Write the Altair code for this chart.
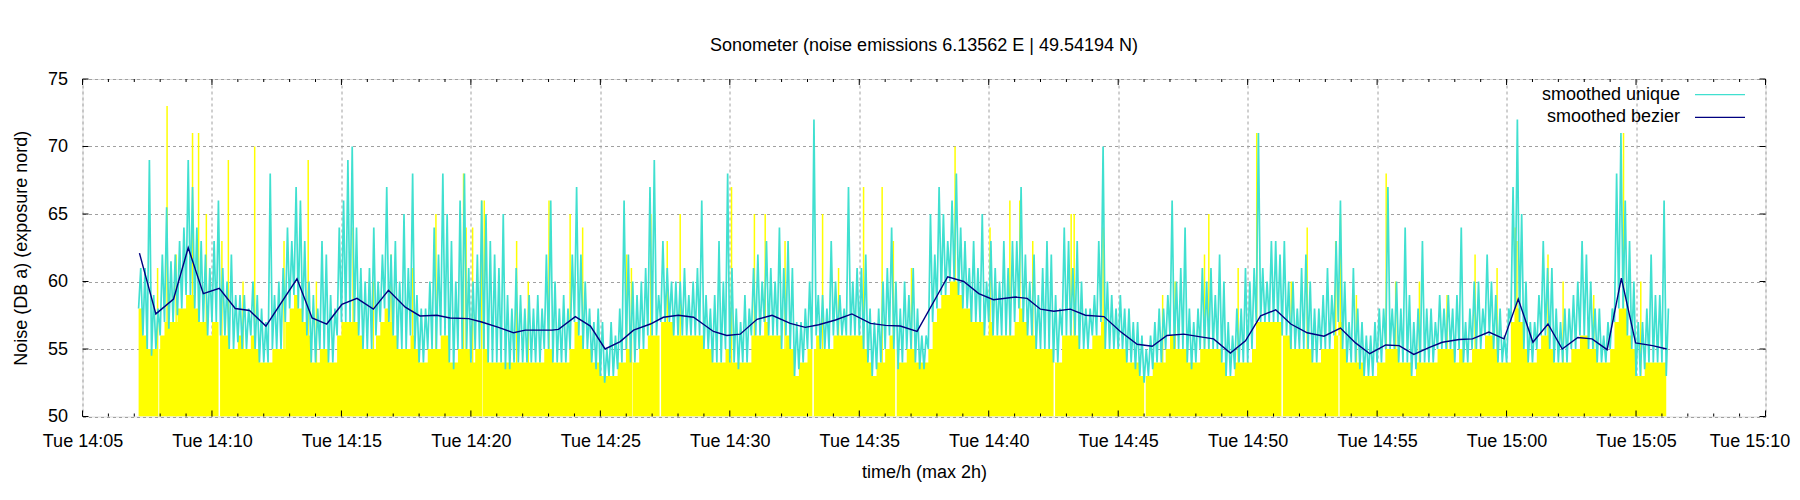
import altair as alt
import pandas as pd

# ---------------- data ----------------
DAY = "2024-01-02"          # a Tuesday
START = "14:07:10"          # first sample
STEP_S = 10                 # one sample every 10 s

# upper / lower extent of the cyan "smoothed unique" trace per 10 s
cyan_hi = [
    61, 61, 69, 59, 58,
    62, 65.5, 61.5, 62, 63, 64,
    69, 67, 64, 63, 62, 61,
    63, 66, 61, 60, 62, 59,
    59, 59, 58, 60, 59, 58,
    57, 68, 59, 60, 61, 64,
    63, 67, 66, 63, 60, 59,
    58, 63, 62, 59, 58, 64,
    66, 69, 70, 64, 61, 60,
    61, 64, 60, 62, 67, 62,
    63, 60, 65, 61, 68, 59,
    58, 58, 60, 64, 62, 68,
    65, 63, 60, 66, 68, 61,
    60, 62, 66, 65, 63, 62,
    61, 65, 59, 58, 61, 59,
    58, 59, 58, 59, 58, 62,
    66, 60, 58, 59, 58, 62,
    67, 62, 60, 58, 57, 58,
    57, 55, 57, 56, 58, 66,
    62, 60, 59, 60, 61, 67,
    69, 59, 63, 61, 60, 60,
    60, 61, 59, 60, 61, 66,
    59, 58, 59, 63, 60, 68,
    61, 58, 57, 59, 58, 61,
    62, 60, 63, 61, 60, 64,
    61, 63, 61, 57, 57, 58,
    60, 72, 59, 59, 58, 63,
    60, 59, 58, 67, 60, 61,
    61, 62, 58, 57, 58, 60,
    61, 64, 60, 58, 60, 59,
    61, 58, 56, 56, 65, 62,
    67, 65, 63, 66, 68, 64,
    63, 61, 63, 61, 65, 60,
    63, 61, 60, 63, 61, 63,
    63, 67, 62, 60, 62, 59,
    61, 63, 62, 59, 58, 64,
    63, 61, 63, 60, 58, 58,
    59, 63, 70, 60, 59, 58,
    59, 58, 58, 57, 57, 56,
    55, 56, 57, 58, 58, 59,
    66, 60, 61, 64, 58, 57,
    58, 61, 60, 61, 59, 62,
    60, 57, 56, 58, 58, 61,
    60, 61, 71, 61, 60, 63,
    63, 62, 63, 60, 60, 58,
    61, 62, 60, 58, 58, 59,
    61, 59, 63, 66, 60, 57,
    61, 58, 57, 56, 56, 57,
    58, 58, 67, 58, 60, 58,
    64, 59, 57, 58, 63, 58,
    58, 57, 59, 58, 59, 58,
    59, 64, 57, 58, 60, 60,
    58, 62, 60, 59, 58, 56,
    58, 67, 72, 65, 60, 57,
    57, 59, 63, 61, 61, 58,
    57, 58, 58, 59, 60, 63,
    62, 60, 58, 58, 56, 57,
    58, 68, 71, 66, 63, 60,
    57, 57, 58, 62, 59, 59,
    66, 58,
]
cyan_lo = [
    58, 56, 55, 54.5, 55,
    56, 57, 56.5, 57, 57.5, 58,
    59, 59, 58, 57, 57, 56,
    57, 57, 56, 56, 55, 55,
    55.5, 55, 55, 56, 55, 54,
    54, 54, 55, 55, 55, 57,
    58, 59, 58, 57, 56, 54,
    54, 55, 55, 54, 54, 56,
    57, 57, 57, 57, 56, 55,
    55, 55, 56, 57, 58, 57,
    56, 55, 55, 55, 56, 55,
    54, 54, 55, 55, 55, 56,
    56, 54, 53.5, 55, 55, 55,
    54, 55, 55, 55, 54, 54,
    54, 54, 53.5, 53.5, 54, 54,
    54, 54, 54, 54, 54, 55,
    55, 54, 54, 54, 54, 55,
    57, 56, 55, 55, 54, 53.5,
    53, 52.5, 53, 53, 53.5, 54,
    55, 54, 54, 55, 55, 56,
    56, 56, 57, 57, 57, 56,
    56, 56, 56, 56, 56, 56,
    55, 55, 54, 54, 54, 55,
    54, 54, 53.5, 54, 54, 56,
    56, 56, 57, 56, 56, 56,
    55, 56, 55, 53, 53.5, 54,
    55, 55, 56, 55, 55, 55,
    56, 56, 56, 56, 56, 56,
    56, 55, 54, 53, 53.5, 54,
    55, 56, 55, 53.5, 54, 55,
    55, 54, 53.5, 53.5, 55, 57,
    58, 59, 59, 60, 60, 59,
    58, 58, 57, 57, 57, 56,
    57, 56, 56, 56, 56, 56,
    57, 58, 57, 56, 56, 55,
    55, 55, 55, 54, 54, 56,
    56, 56, 56, 55, 55, 55,
    56, 56, 57, 55, 55, 55,
    55, 55, 54, 54, 53.5, 53,
    52.5, 53, 53.5, 54, 54, 55,
    56, 55, 55, 55, 54, 53.5,
    54, 55, 55, 55, 55, 55,
    54, 53, 53, 53.5, 54, 54,
    54, 55, 57, 57, 57, 57,
    57, 57, 56, 56, 55, 55,
    55, 55, 55, 54, 54, 55,
    55, 55, 56, 57, 55, 54,
    54, 54, 53.5, 53, 53, 53,
    54, 54, 55, 55, 55, 54,
    54, 54, 53, 53.5, 54, 54,
    54, 54, 55, 55, 55, 55,
    54, 55, 54, 54, 55, 55,
    55, 56, 56, 55, 54, 54,
    54, 57, 58, 57, 55, 54,
    54, 55, 56, 56, 55, 54,
    54, 54, 54, 55, 55, 56,
    56, 55, 55, 54, 54, 54,
    55, 57, 58, 58, 56, 55,
    53, 53, 53.5, 54, 54, 54,
    54, 53,
]
# top of the solid yellow raw-value fill per 10 s (whole dB)
yellow_db = [
    58, 56, 55, 55, 55,
    56, 57, 57, 57, 58, 58,
    59, 59, 58, 57, 57, 56,
    57, 57, 56, 56, 55, 55,
    56, 55, 55, 56, 55, 54,
    54, 54, 55, 55, 55, 57,
    58, 59, 58, 57, 56, 54,
    54, 55, 55, 54, 54, 56,
    57, 57, 57, 57, 56, 55,
    55, 55, 56, 57, 58, 57,
    56, 55, 55, 55, 56, 55,
    54, 54, 55, 55, 55, 56,
    56, 54, 54, 55, 55, 55,
    54, 55, 55, 55, 54, 54,
    54, 54, 54, 54, 54, 54,
    54, 54, 54, 54, 54, 55,
    55, 54, 54, 54, 54, 55,
    57, 56, 55, 55, 54, 54,
    53, 53, 53, 53, 54, 54,
    55, 54, 54, 55, 55, 56,
    56, 56, 57, 57, 57, 56,
    56, 56, 56, 56, 56, 56,
    55, 55, 54, 54, 54, 55,
    54, 54, 54, 54, 54, 56,
    56, 56, 57, 56, 56, 56,
    55, 56, 55, 53, 54, 54,
    55, 55, 56, 55, 55, 55,
    56, 56, 56, 56, 56, 56,
    56, 55, 54, 53, 54, 54,
    55, 56, 55, 54, 54, 55,
    55, 54, 54, 54, 55, 57,
    58, 59, 59, 60, 60, 59,
    58, 58, 57, 57, 57, 56,
    57, 56, 56, 56, 56, 56,
    57, 58, 57, 56, 56, 55,
    55, 55, 55, 54, 54, 56,
    56, 56, 56, 55, 55, 55,
    56, 56, 57, 55, 55, 55,
    55, 55, 54, 54, 54, 53,
    53, 53, 54, 54, 54, 55,
    56, 55, 55, 55, 54, 54,
    54, 55, 55, 55, 55, 55,
    54, 53, 53, 54, 54, 54,
    54, 55, 57, 57, 57, 57,
    57, 57, 56, 56, 55, 55,
    55, 55, 55, 54, 54, 55,
    55, 55, 56, 57, 55, 54,
    54, 54, 54, 53, 53, 53,
    54, 54, 55, 55, 55, 54,
    54, 54, 53, 54, 54, 54,
    54, 54, 55, 55, 55, 55,
    54, 55, 54, 54, 55, 55,
    55, 56, 56, 55, 54, 54,
    54, 57, 58, 57, 55, 54,
    54, 55, 56, 56, 55, 54,
    54, 54, 54, 55, 55, 56,
    56, 55, 55, 54, 54, 54,
    55, 57, 58, 58, 56, 55,
    53, 53, 54, 54, 54, 54,
    54, 53,
]
# single yellow impulses that stand above the cyan trace
spike_time = [
    "14:07:54", "14:08:16", "14:08:37", "14:09:15", "14:09:29", "14:09:47",
    "14:10:23", "14:10:38", "14:11:12", "14:11:39", "14:12:47", "14:13:43",
    "14:14:02", "14:15:27", "14:16:14", "14:16:55", "14:17:45", "14:18:39",
    "14:19:43", "14:19:49", "14:20:04", "14:20:25", "14:20:31", "14:21:46",
    "14:22:13", "14:23:01", "14:23:50", "14:24:19", "14:26:01", "14:26:12",
    "14:26:57", "14:27:35", "14:28:05", "14:30:04", "14:30:57", "14:31:22",
    "14:32:08", "14:33:35", "14:34:12", "14:35:10", "14:35:53", "14:36:19",
    "14:37:01", "14:38:42", "14:40:03", "14:40:49", "14:41:12", "14:41:42",
    "14:43:11", "14:43:18", "14:44:25", "14:46:43", "14:47:12", "14:48:20",
    "14:48:30", "14:49:38", "14:50:21", "14:51:41", "14:52:18", "14:53:24",
    "14:53:35", "14:54:12", "14:55:21", "14:55:43", "14:56:38", "14:57:42",
    "14:58:47", "14:59:38", "15:00:20", "15:00:24", "15:01:36", "15:02:11",
    "15:03:22", "15:04:31", "15:05:11",
]
spike_db = [
    61, 73, 62, 71, 71, 65,
    63, 69, 60, 70, 63, 69,
    60, 64, 60, 62, 61, 65,
    68, 64, 64, 66, 66, 63,
    60, 66, 65, 64, 62, 61,
    65, 63, 65, 67, 65, 65,
    63, 65, 61, 67, 67, 63,
    61, 70, 64, 66, 66, 63,
    65, 65, 64, 59, 60, 62,
    65, 61, 71, 60, 64, 63,
    65, 59, 68, 60, 60, 59,
    62, 61, 64, 63, 62, 60,
    59, 71, 60,
]
# thin gaps (missing samples) that cut the yellow fill
gap_time = ["14:07:56", "14:10:17", "14:20:26", "14:26:13", "14:27:19", "14:33:13",
            "14:36:25", "14:42:32", "14:46:02", "14:51:20", "14:53:32"]
gap_top = [56, 57, 55, 54, 57, 56, 55, 54, 53, 56, 56]

# knots of the dark-blue "smoothed bezier" curve
bez_time = [
    "14:07:12", "14:07:50", "14:08:31", "14:09:05", "14:09:40", "14:10:17", "14:10:54",
    "14:11:27", "14:12:05", "14:13:17", "14:13:52", "14:14:26", "14:15:01", "14:15:36",
    "14:16:14", "14:16:49", "14:17:28", "14:18:02", "14:18:41", "14:19:12", "14:19:55",
    "14:20:25", "14:21:04", "14:21:39", "14:22:06", "14:23:08", "14:23:23", "14:24:02",
    "14:24:37", "14:25:11", "14:25:46", "14:26:17", "14:26:56", "14:27:26", "14:28:01",
    "14:28:36", "14:29:22", "14:29:53", "14:30:24", "14:31:03", "14:31:38", "14:32:20",
    "14:32:55", "14:33:26", "14:34:05", "14:34:43", "14:35:26", "14:36:01", "14:36:35",
    "14:37:14", "14:38:25", "14:39:02", "14:39:37", "14:40:11", "14:41:02", "14:41:29",
    "14:42:00", "14:42:31", "14:43:09", "14:43:44", "14:44:27", "14:45:05", "14:45:44",
    "14:46:19", "14:46:53", "14:47:32", "14:48:11", "14:48:41", "14:49:20", "14:49:55",
    "14:50:30", "14:51:05", "14:51:40", "14:52:18", "14:52:57", "14:53:35", "14:54:10",
    "14:54:43", "14:55:20", "14:55:51", "14:56:25", "14:57:00", "14:57:31", "14:58:10",
    "14:58:41", "14:59:19", "14:59:54", "15:00:27", "15:01:01", "15:01:36", "15:02:09",
    "15:02:45", "15:03:18", "15:03:53", "15:04:26", "15:04:59", "15:05:38", "15:06:11",
]
bez_db = [
    62.1, 57.6, 58.7, 62.5, 59.1, 59.5, 58.0,
    57.85, 56.7, 60.2, 57.3, 56.85, 58.3, 58.75,
    57.95, 59.35, 58.1, 57.45, 57.5, 57.3, 57.25,
    57.0, 56.6, 56.2, 56.4, 56.4, 56.45, 57.4,
    56.7, 55.0, 55.55, 56.4, 56.85, 57.35, 57.5,
    57.35, 56.3, 56.0, 56.1, 57.2, 57.5, 56.9,
    56.6, 56.8, 57.15, 57.6, 56.9, 56.75, 56.7,
    56.3, 60.35, 60.0, 59.1, 58.65, 58.85, 58.75,
    57.95, 57.8, 57.95, 57.5, 57.4, 56.3, 55.35,
    55.2, 56.0, 56.1, 55.9, 55.75, 54.7, 55.6,
    57.45, 57.9, 56.85, 56.2, 55.95, 56.55, 55.45,
    54.65, 55.3, 55.25, 54.6, 55.1, 55.5, 55.7,
    55.75, 56.25, 55.75, 58.7, 55.5, 56.85, 55.0,
    55.85, 55.75, 54.95, 60.25, 55.45, 55.25, 55.0,
]

legend_labels = ["smoothed unique", "smoothed bezier"]
title_text = "Sonometer (noise emissions 6.13562 E | 49.54194 N)"
x_title = "time/h (max 2h)"
y_title = "Noise (DB a) (exposure nord)"
y_ticks = [50, 55, 60, 65, 70, 75]

assert len(cyan_hi) == len(cyan_lo) == len(yellow_db)
assert len(spike_time) == len(spike_db)
assert len(gap_time) == len(gap_top)
assert len(bez_time) == len(bez_db)

# ---------------- styling ----------------
FONT = "Liberation Sans"
FS = 18
W, H = 1683, 337.5
CYAN = "#40e0d0"
YELLOW = "#ffff00"
NAVY = "#000080"
GRID = "#a0a0a0"

def iso(t):
    return t.strftime("%Y-%m-%dT%H:%M:%S")

def dt(h, m):
    return alt.DateTime(year=2024, month=1, date=2, hours=h, minutes=m)

t0 = pd.Timestamp(f"{DAY} {START}")
times = [t0 + pd.Timedelta(seconds=STEP_S * i) for i in range(len(cyan_hi))]

yellow_df = pd.DataFrame({"t": [iso(t) for t in times], "v": yellow_db})
rows = []
for i, t in enumerate(times):
    rows.append({"t": iso(t), "v": cyan_lo[i], "o": 2 * i})
    rows.append({"t": iso(t + pd.Timedelta(seconds=STEP_S / 2)), "v": cyan_hi[i], "o": 2 * i + 1})
cyan_df = pd.DataFrame(rows)
spike_df = pd.DataFrame({"t": [f"{DAY}T{s}" for s in spike_time], "v": spike_db})
gap_df = pd.DataFrame({"t": [f"{DAY}T{s}" for s in gap_time], "v": gap_top})
bez_df = pd.DataFrame({"t": [f"{DAY}T{s}" for s in bez_time], "v": bez_db})

# tick positions (every minute, longer every 5 minutes)
minutes = pd.date_range(f"{DAY} 14:05", f"{DAY} 15:10", freq="1min")
major_df = pd.DataFrame({"t": [iso(m) for m in minutes if m.minute % 5 == 0]})
minor_df = pd.DataFrame({"t": [iso(m) for m in minutes if m.minute % 5 != 0]})
ytick_df = pd.DataFrame({"v": y_ticks})

x_values = [dt(m.hour, m.minute) for m in minutes if m.minute % 5 == 0]

# keep the last label ("Tue 15:10") inside the page
last_label_shift = alt.condition(
    "hours(datum.value) == 15 && minutes(datum.value) == 10",
    alt.value(-16), alt.value(0)
)

x_enc = alt.X(
    "t:T",
    scale=alt.Scale(domain=[dt(14, 5), dt(15, 10)]),
    axis=alt.Axis(
        values=x_values, format="%a %H:%M", labelFontSize=FS, labelFont=FONT,
        labelColor="black", labelPadding=16, ticks=False, tickSize=0, domain=False,
        labelFlush=False, labelOverlap=False, labelBound=False,
        labelOffset=last_label_shift,
        grid=True, gridDash=[3, 3], gridColor=GRID, gridOpacity=1, gridWidth=1,
        title=x_title, titleFontSize=FS, titleFont=FONT, titleFontWeight="normal",
        titleColor="black", titleY=61, titleBaseline="alphabetic",
    ),
)
y_enc = alt.Y(
    "v:Q",
    scale=alt.Scale(domain=[50, 75], zero=False, nice=False),
    axis=alt.Axis(
        values=y_ticks, labelFontSize=FS, labelFont=FONT, labelColor="black",
        labelPadding=15, ticks=False, tickSize=0, domain=False,
        grid=True, gridDash=[3, 3], gridColor=GRID, gridOpacity=1, gridWidth=1,
        title=y_title, titleFontSize=FS, titleFont=FONT, titleFontWeight="normal",
        titleColor="black", titleX=-56, titleY=H / 2, titleAngle=270,
        titleAlign="center", titleBaseline="alphabetic",
    ),
)

yellow_area = alt.Chart(yellow_df).mark_area(
    interpolate="step-after", color=YELLOW, clip=True
).encode(x=x_enc, y=y_enc, y2=alt.datum(50))

gaps = alt.Chart(gap_df).mark_rule(color="white", strokeWidth=1.5, clip=True).encode(
    x="t:T", y="v:Q", y2=alt.datum(50)
)

spikes = alt.Chart(spike_df).mark_rule(color=YELLOW, strokeWidth=1.5, clip=True).encode(
    x="t:T", y="v:Q", y2=alt.datum(50)
)

cyan_line = alt.Chart(cyan_df).mark_line(color=CYAN, strokeWidth=1.7, clip=True).encode(
    x="t:T", y="v:Q", order="o:Q"
)

bez_line = alt.Chart(bez_df).mark_line(color=NAVY, strokeWidth=1.4, clip=True).encode(
    x="t:T", y="v:Q"
)

tick_layers = [
    alt.Chart(major_df).mark_rule(color="black", strokeWidth=1).encode(
        x="t:T", y=alt.value(0), y2=alt.value(6)),
    alt.Chart(major_df).mark_rule(color="black", strokeWidth=1).encode(
        x="t:T", y=alt.value(H), y2=alt.value(H - 6)),
    alt.Chart(minor_df).mark_rule(color="black", strokeWidth=1).encode(
        x="t:T", y=alt.value(0), y2=alt.value(3)),
    alt.Chart(minor_df).mark_rule(color="black", strokeWidth=1).encode(
        x="t:T", y=alt.value(H), y2=alt.value(H - 3)),
    alt.Chart(ytick_df).mark_rule(color="black", strokeWidth=1).encode(
        y="v:Q", x=alt.value(0), x2=alt.value(6)),
    alt.Chart(ytick_df).mark_rule(color="black", strokeWidth=1).encode(
        y="v:Q", x=alt.value(W - 6), x2=alt.value(W)),
]

leg_rows = [(legend_labels[0], CYAN, 15.7), (legend_labels[1], NAVY, 38.3)]
legend_layers = []
for label, col, yy in leg_rows:
    ldf = pd.DataFrame({"label": [label]})
    legend_layers.append(
        alt.Chart(ldf).mark_text(
            align="right", baseline="middle", fontSize=FS, font=FONT, color="black"
        ).encode(text="label:N", x=alt.value(1597.5), y=alt.value(yy))
    )
    legend_layers.append(
        alt.Chart(ldf).mark_rule(color=col, strokeWidth=1.3).encode(
            x=alt.value(1612.5), x2=alt.value(1662.5), y=alt.value(yy))
    )

chart = alt.layer(
    yellow_area, gaps, spikes, cyan_line, bez_line, *tick_layers, *legend_layers
).properties(
    width=W,
    height=H,
    title=alt.Title(
        title_text, fontSize=FS, font=FONT, fontWeight="normal", color="black",
        anchor="middle", frame="group", offset=1, baseline="alphabetic",
    ),
    autosize=alt.AutoSizeParams(type="none"),
    padding={"left": 74.5, "top": 71, "right": 26, "bottom": 70},
    background="white",
).configure_view(
    stroke="black", strokeWidth=1
).configure(font=FONT)

chart.save("out.html", embed_options={"renderer": "svg", "actions": False})
